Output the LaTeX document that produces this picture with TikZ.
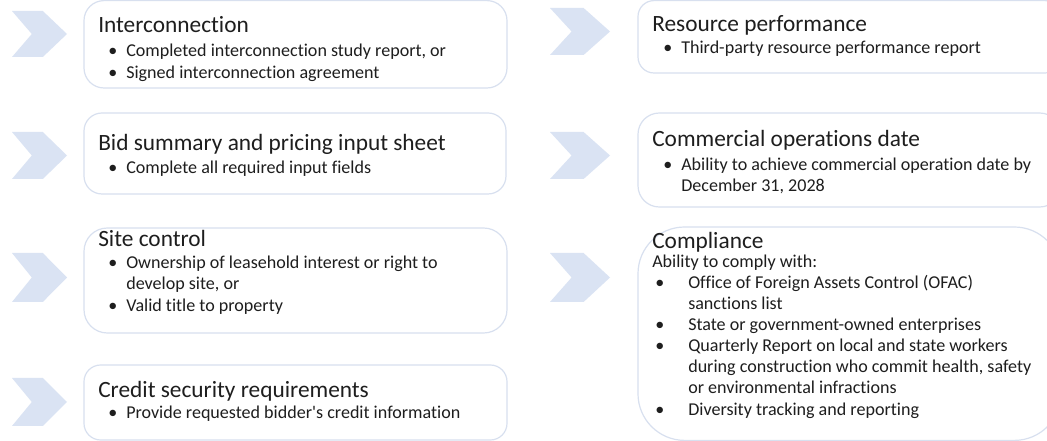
\documentclass[tikz,border=0pt]{standalone}
\usepackage{fontspec}
\setmainfont{Carlito}[RawFeature={-liga;-clig;-dlig}]
\definecolor{chev}{HTML}{DAE3F3}
\definecolor{boxline}{HTML}{D8E0EF}
\definecolor{ink}{HTML}{1E1E1E}
\tikzset{
  chevshape/.style={fill=chev, draw=none},
  card/.style={draw=boxline, line width=0.9pt, fill=white},
  ttl/.style={anchor=base west, inner sep=0pt, text=ink, font=\fontsize{17.5}{20}\selectfont},
  txt/.style={anchor=base west, inner sep=0pt, text=ink, font=\fontsize{13.55}{16}\selectfont},
}
\newcommand{\chevronat}[4]{% x left, y top, width, height
  \fill[chevshape] (#1,#2) -- ++(0.56*#3,0) -- ++(0.44*#3,0.5*#4) -- ++(-0.44*#3,0.5*#4) -- ++(-0.56*#3,0) -- ++(0.36*#3,-0.5*#4) -- cycle;}
\begin{document}
\begin{tikzpicture}[x=0.75pt,y=-0.75pt]
\useasboundingbox (0,0) rectangle (1047,441);
\fill[white] (0,0) rectangle (1047,441);
% chevrons
\chevronat{12}{11}{55}{46}
\chevronat{12}{132}{55}{47}
\chevronat{12}{253}{55}{49}
\chevronat{12}{378}{55}{48}
\chevronat{550}{8}{60}{47}
\chevronat{550}{132}{60}{47}
\chevronat{550}{253}{60}{49}
% boxes
\draw[card, rounded corners=15] (84,0.6) rectangle (507,88) node[pos=0.5, inner sep=0] (b1) {};
\draw[card, rounded corners=13.5] (84,113) rectangle (506,194) node[pos=0.5, inner sep=0] (b2) {};
\draw[card, rounded corners=17.5] (84,228) rectangle (507,333) node[pos=0.5, inner sep=0] (b3) {};
\draw[card, rounded corners=12.5] (84,365) rectangle (507,440) node[pos=0.5, inner sep=0] (b4) {};
\draw[card, rounded corners=12] (638,0.6) rectangle (1061,73) node[pos=0.5, inner sep=0] (r1) {};
\draw[card, rounded corners=16] (638,113) rectangle (1061,207) node[pos=0.5, inner sep=0] (r2) {};
\draw[card, rounded corners=35] (638,227) rectangle (1061,440.4) node[pos=0.5, inner sep=0] (r3) {};
% box 1
\node[ttl] (t1) at (98,32.7) {Interconnection};
\node[txt] (b1a) at (108,56.7) {•};
\node[txt] (b1at) at (126,56.7) {Completed interconnection study report, or};
\node[txt] (b1b) at (108,78.3) {•};
\node[txt] (b1bt) at (126,78.3) {Signed interconnection agreement};
% box 2
\node[ttl] (t2) at (98,150.7) {Bid summary and pricing input sheet};
\node[txt] (b2a) at (108,174) {•};
\node[txt] (b2at) at (126,174) {Complete all required input fields};
% box 3
\node[ttl] (t3) at (98,246.7) {Site control};
\node[txt] (b3a) at (108,268.3) {•};
\node[txt] (b3at) at (126,268.3) {Ownership of leasehold interest or right to};
\node[txt] (b3at2) at (126,290) {develop site, or};
\node[txt] (b3b) at (108,311.7) {•};
\node[txt] (b3bt) at (126,311.7) {Valid title to property};
% box 4
\node[ttl] (t4) at (98,397.7) {Credit security requirements};
\node[txt] (b4a) at (108,419) {•};
\node[txt] (b4at) at (126,419) {Provide requested bidder\textquotesingle s credit information};
% right box 1
\node[ttl] (t5) at (652,31.7) {Resource performance};
\node[txt] (r1a) at (663,53.3) {•};
\node[txt] (r1at) at (681,53.3) {Third-party resource performance report};
% right box 2
\node[ttl] (t6) at (652,146.7) {Commercial operations date};
\node[txt] (r2a) at (663,170.7) {•};
\node[txt] (r2at) at (681,170.7) {Ability to achieve commercial operation date by};
\node[txt] (r2at2) at (681,191.7) {December 31, 2028};
% right box 3
\node[ttl] (t7) at (652,248.3) {Compliance};
\node[txt] (r3i) at (652,267.3) {Ability to comply with:};
\node[txt] (r3a) at (655,288.3) {•};
\node[txt] (r3at) at (688,288.3) {Office of Foreign Assets Control (OFAC)};
\node[txt] (r3at2) at (688,309.3) {sanctions list};
\node[txt] (r3b) at (655,330.7) {•};
\node[txt] (r3bt) at (688,330.7) {State or government-owned enterprises};
\node[txt] (r3c) at (655,351.7) {•};
\node[txt] (r3ct) at (688,351.7) {Quarterly Report on local and state workers};
\node[txt] (r3ct2) at (688,372.7) {during construction who commit health, safety};
\node[txt] (r3ct3) at (688,394) {or environmental infractions};
\node[txt] (r3d) at (655,416) {•};
\node[txt] (r3dt) at (688,416) {Diversity tracking and reporting};
\end{tikzpicture}
\end{document}
